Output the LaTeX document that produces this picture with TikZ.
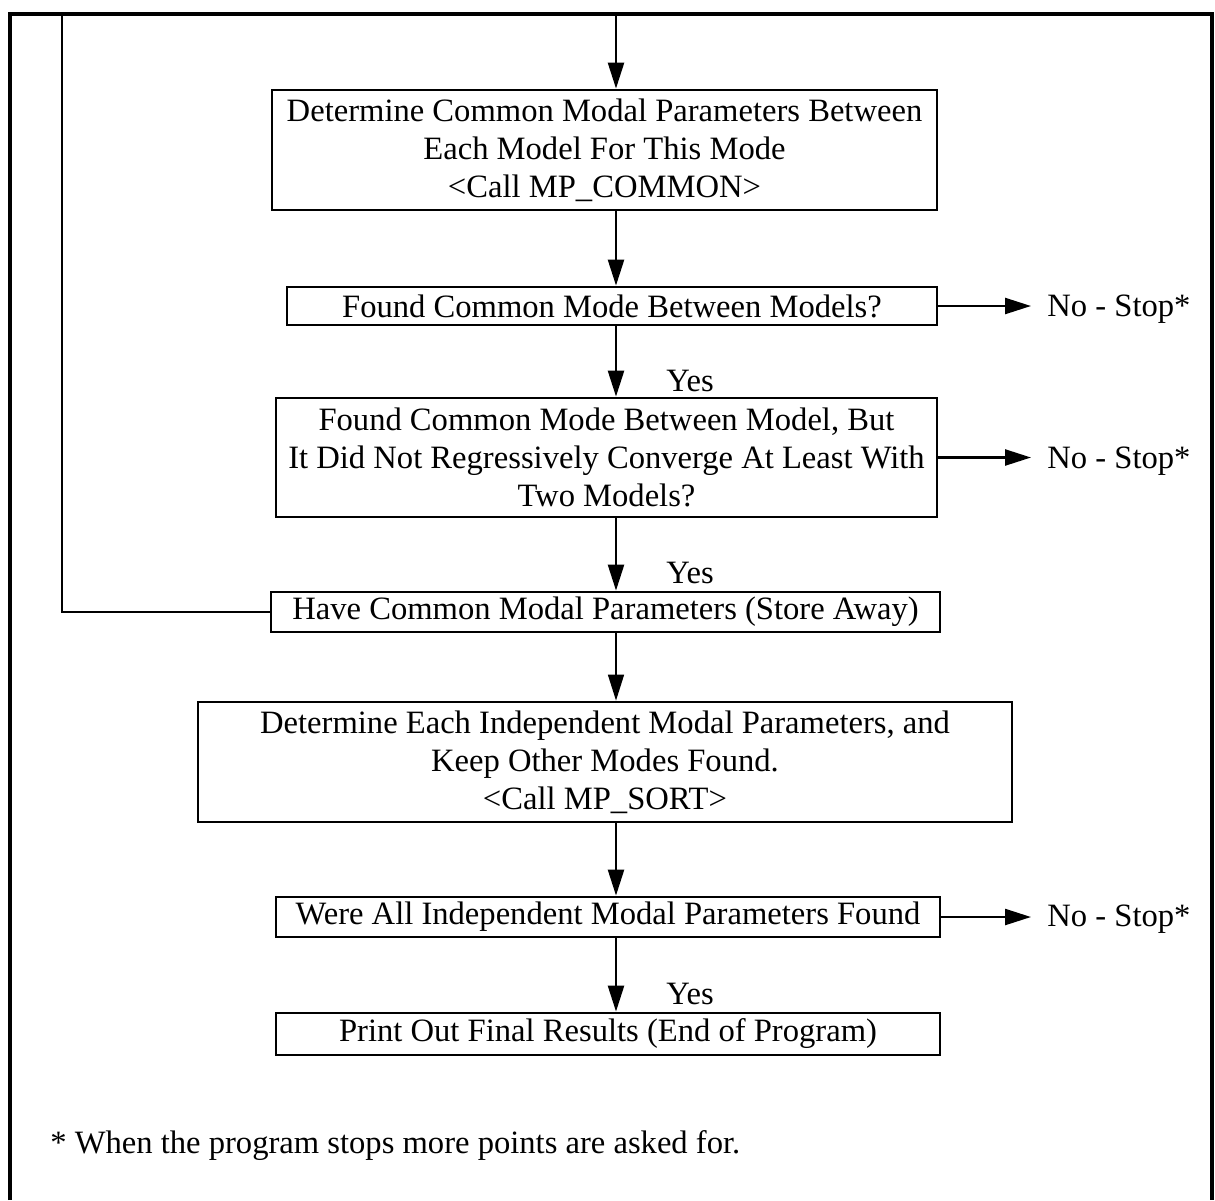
\documentclass[tikz,border=0pt]{standalone}
\usepackage{fontspec}
\setmainfont{Liberation Serif}
\usetikzlibrary{arrows.meta}

\begin{document}
\begin{tikzpicture}[x=0.5pt, y=-0.5pt,
		box/.style={draw, line width=1.4pt, inner sep=0pt, align=center, font=\fontsize{16.3}{19}\selectfont},
		txt/.style={inner sep=0pt, font=\fontsize{16.3}{19}\selectfont},
		flow/.style={line width=1.2pt, -{Triangle[length=13pt,width=8pt]}}]
		\useasboundingbox (0,0) rectangle (1215,1200);
		% frame, open at the bottom
		\draw[line width=2pt] (10,1200) -- (10,14) -- (1212,14) -- (1212,1200);
		\coordinate (entry) at (616,14);
		\coordinate (loop) at (62,14);
		
		\node[box, minimum width=332.5pt, minimum height=60pt] (common) at (604.5,150)
			{Determine Common Modal Parameters Between\\ Each Model For This Mode\\ <Call MP\_COMMON>};
		\node[box, minimum width=325pt, minimum height=19pt] (found) at (612,306)
			{Found Common Mode Between Models?};
		\node[box, minimum width=330.5pt, minimum height=59.5pt] (conv) at (606.5,457.5)
			{Found Common Mode Between Model, But\\ It Did Not Regressively Converge At Least With\\ Two Models?};
		\node[box, minimum width=334.5pt, minimum height=20pt] (store) at (605.5,612)
			{Have Common Modal Parameters (Store Away)};
		\node[box, minimum width=407pt, minimum height=60pt] (sort) at (605,762)
			{Determine Each Independent Modal Parameters, and\\ Keep Other Modes Found.\\ <Call MP\_SORT>};
		\node[box, minimum width=332pt, minimum height=20pt] (allfound) at (608,917)
			{Were All Independent Modal Parameters Found};
		\node[box, minimum width=332pt, minimum height=21pt] (final) at (608,1034)
			{Print Out Final Results (End of Program)};
		
		\node[txt, anchor=west] (stopA) at (1047,309) {No - Stop*};
		\node[txt, anchor=west] (stopB) at (1047,461) {No - Stop*};
		\node[txt, anchor=west] (stopC) at (1047,919) {No - Stop*};
		\node[txt] (yesA) at (690,381) {Yes};
		\node[txt] (yesB) at (690,573) {Yes};
		\node[txt] (yesC) at (690,994) {Yes};
		\node[txt, anchor=west] (note) at (50,1146) {* When the program stops more points are asked for.};
		
		% main column
		\draw[flow] (entry) -- (common.north -| entry);
		\draw[flow] (common.south -| entry) -- (found.north -| entry);
		\draw[flow] (found.south -| entry) -- (conv.north -| entry);
		\draw[flow] (conv.south -| entry) -- (store.north -| entry);
		\draw[flow, line width=0.8pt] (store.south -| entry) -- (sort.north -| entry);
		\draw[flow] (sort.south -| entry) -- (allfound.north -| entry);
		\draw[flow] (allfound.south -| entry) -- (final.north -| entry);
		
		% exits to the right
		\draw[flow, shorten >=8pt] (found.east) -- (found.east -| stopA.west);
		\draw[flow, shorten >=8pt] (conv.east) -- (conv.east -| stopB.west);
		\draw[flow, shorten >=8pt] (allfound.east) -- (allfound.east -| stopC.west);
		
		% back to the top for the next mode
		\draw[line width=0.8pt] (store.west) -| (loop);
	\end{tikzpicture}
\end{document}
